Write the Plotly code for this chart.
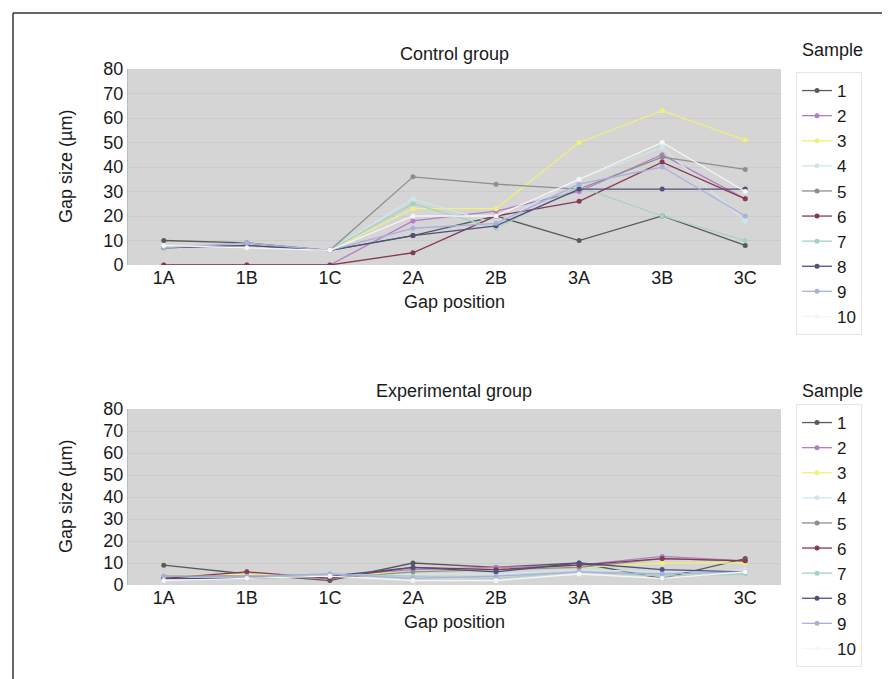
import plotly.graph_objects as go

W, H = 890, 679

positions = ["1A", "1B", "1C", "2A", "2B", "3A", "3B", "3C"]
samples = ["1", "2", "3", "4", "5", "6", "7", "8", "9", "10"]

# Control group gap sizes (µm), one list per sample
control_1 = [10, 9, 6, 12, 20, 10, 20, 8]
control_2 = [0, 0, 0, 18, 22, 30, 45, 27]
control_3 = [8, 7, 6, 23, 23, 50, 63, 51]
control_4 = [7, 8, 6, 27, 17, 35, 48, 18]
control_5 = [7, 8, 6, 36, 33, 31, 44, 39]
control_6 = [0, 0, 0, 5, 20, 26, 42, 27]
control_7 = [8, 7, 6, 25, 15, 32, 20, 10]
control_8 = [7, 8, 6, 12, 16, 31, 31, 31]
control_9 = [7, 9, 6, 15, 17, 33, 40, 20]
control_10 = [8, 7, 6, 20, 20, 35, 50, 30]

# Experimental group gap sizes (µm)
exp_1 = [9, 5, 2, 10, 8, 10, 3, 12]
exp_2 = [3, 5, 4, 7, 8, 9, 13, 11]
exp_3 = [4, 5, 4, 6, 7, 8, 10, 10]
exp_4 = [3, 4, 4, 5, 5, 7, 6, 7]
exp_5 = [4, 4, 3, 6, 7, 8, 12, 11]
exp_6 = [3, 6, 3, 8, 7, 9, 12, 11]
exp_7 = [2, 3, 5, 4, 3, 6, 4, 5]
exp_8 = [3, 3, 4, 8, 6, 10, 7, 6]
exp_9 = [4, 4, 5, 3, 4, 6, 5, 6]
exp_10 = [2, 3, 4, 2, 2, 5, 3, 6]

control = [control_1, control_2, control_3, control_4, control_5,
           control_6, control_7, control_8, control_9, control_10]
experimental = [exp_1, exp_2, exp_3, exp_4, exp_5,
                exp_6, exp_7, exp_8, exp_9, exp_10]

colors = ["#5a5a5a", "#b47cc4", "#f0f07a", "#cfe6ec", "#8e8e8e",
          "#843a52", "#a2d2c6", "#50507e", "#aab0dc", "#f6f6f6"]

FONT = "Liberation Sans"
TXT = "#1a1a1a"

fig = go.Figure()

for i, s in enumerate(samples):
    fig.add_trace(go.Scatter(
        x=positions, y=control[i], name=s, mode="lines+markers",
        line=dict(color=colors[i], width=1.3),
        marker=dict(color=colors[i], size=5),
        xaxis="x", yaxis="y", legend="legend"))
for i, s in enumerate(samples):
    fig.add_trace(go.Scatter(
        x=positions, y=experimental[i], name=s, mode="lines+markers",
        line=dict(color=colors[i], width=1.3),
        marker=dict(color=colors[i], size=5),
        xaxis="x2", yaxis="y2", legend="legend2"))

def px_x(p):
    return p / W

def px_y(p):
    return 1 - p / H

x0, x1 = px_x(120), px_x(773)
top_dom = [px_y(257), px_y(61)]
bot_dom = [px_y(577), px_y(401)]

axis_common = dict(showgrid=False, zeroline=False, ticks="",
                   tickfont=dict(family=FONT, size=18, color=TXT),
                   automargin=False, fixedrange=True)
yaxis_common = dict(range=[0, 80], dtick=10, showgrid=True,
                    gridcolor="#cbcbcb", gridwidth=1, zeroline=False,
                    ticks="", showline=True, linecolor="#bcbcbc",
                    tickfont=dict(family=FONT, size=18, color=TXT),
                    automargin=False, fixedrange=True)

legend_common = dict(font=dict(family=FONT, size=17, color=TXT),
                     bgcolor="white", bordercolor="#e6e6e6", borderwidth=1,
                     xanchor="left", yanchor="top", tracegroupgap=0,
                     itemclick=False)

fig.update_layout(
    width=W, height=H,
    margin=dict(l=0, r=0, t=0, b=0),
    paper_bgcolor="white",
    plot_bgcolor="#d5d5d5",
    font=dict(family=FONT, size=17, color=TXT),
    xaxis=dict(domain=[x0, x1], anchor="y", **axis_common),
    yaxis=dict(domain=top_dom, anchor="x", **yaxis_common),
    xaxis2=dict(domain=[x0, x1], anchor="y2", **axis_common),
    yaxis2=dict(domain=bot_dom, anchor="x2", **yaxis_common),
    legend=dict(x=px_x(788), y=px_y(64), **legend_common),
    legend2=dict(x=px_x(788), y=px_y(396), **legend_common),
    showlegend=True,
)

ann = []
def text(t, x, y, size=18, angle=0):
    ann.append(dict(text=t, x=px_x(x), y=px_y(y), xref="paper", yref="paper",
                    showarrow=False, xanchor="center", yanchor="middle",
                    textangle=angle,
                    font=dict(family=FONT, size=size, color=TXT)))

text("Control group", 446, 46)
text("Experimental group", 446, 383)
text("Gap position", 446, 294)
text("Gap position", 446, 614)
text("Gap size (µm)", 58, 159, angle=-90)
text("Gap size (µm)", 58, 489, angle=-90)
text("Sample", 824, 42)
text("Sample", 824, 383)
fig.update_layout(annotations=ann)

fig.update_layout(shapes=[
    dict(type="line", xref="paper", yref="paper", x0=px_x(5), x1=1,
         y0=px_y(5), y1=px_y(5), line=dict(color="#333", width=1.5)),
    dict(type="line", xref="paper", yref="paper", x0=px_x(5), x1=px_x(5),
         y0=px_y(5), y1=0, line=dict(color="#333", width=1.5)),
])

fig.write_html("out.html")
